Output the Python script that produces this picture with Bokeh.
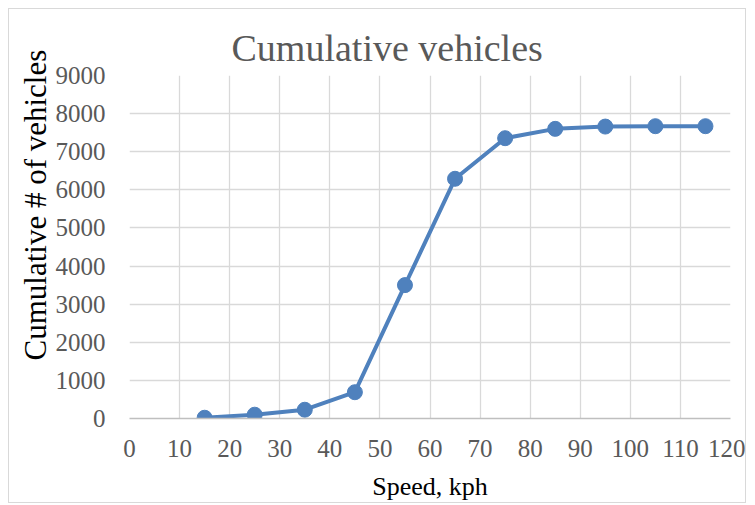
from bokeh.plotting import figure
from bokeh.models import Range1d, FixedTicker, Title
from bokeh.embed import file_html
from bokeh.resources import INLINE

speed = [15, 25, 35, 45, 55, 65, 75, 85, 95, 105, 115]
cumulative = [20, 100, 230, 690, 3500, 6290, 7355, 7600, 7660, 7670, 7670]
x_ticks = list(range(0, 121, 10))
y_ticks = list(range(0, 9001, 1000))
y_title = "Cumulative # of vehicles"

FONT = "Liberation Serif"
BLUE = "#4F81BD"

p = figure(width=738, height=495, output_backend="svg", toolbar_location=None,
           x_range=Range1d(0, 120), y_range=Range1d(0, 9000),
           min_border_left=120, min_border_right=17, min_border_top=66, min_border_bottom=86,
           title="Cumulative vehicles")
p.styles = {"border": "1px solid #D9D9D9"}
p.border_fill_color = "white"
p.outline_line_color = None

p.title.text_font = FONT
p.title.text_font_size = "38px"
p.title.text_font_style = "normal"
p.title.text_color = "#595959"
p.title.align = "left"
p.title.offset = 102
p.title.standoff = 14

p.xaxis.ticker = FixedTicker(ticks=x_ticks)
p.yaxis.ticker = FixedTicker(ticks=y_ticks)
for ax in (p.xaxis[0], p.yaxis[0]):
    ax.major_tick_line_color = None
    ax.minor_tick_line_color = None
    ax.major_label_text_font = FONT
    ax.major_label_text_font_size = "25px"
    ax.major_label_text_color = "#595959"
    ax.axis_label_text_font = FONT
    ax.axis_label_text_font_style = "normal"
    ax.axis_label_text_color = "#000000"
p.xaxis.axis_label_text_font_size = "26px"
p.xaxis.axis_line_color = "#BFBFBF"
p.xaxis.axis_line_width = 1.5
p.yaxis.axis_line_color = None
p.xaxis.major_label_standoff = 15
p.yaxis.major_label_standoff = 18
p.xaxis.axis_label = "Speed, kph"
p.xaxis.axis_label_standoff = 12

# y-axis title, raised above the frame's centre as in the reference
ytitle = Title(text=y_title, align="left", offset=58, standoff=0,
               text_font=FONT, text_font_size="31px", text_font_style="normal",
               text_color="#000000")
p.add_layout(ytitle, "left")

p.xgrid.grid_line_color = "#D9D9D9"
p.ygrid.grid_line_color = "#D9D9D9"
p.xgrid.grid_line_width = 1.3
p.ygrid.grid_line_width = 1.3

p.line(speed, cumulative, line_color=BLUE, line_width=4)
p.scatter(speed, cumulative, size=15, fill_color=BLUE, line_color=BLUE)

p.background_fill_color = "white"

html = file_html(p, INLINE)
html = html.replace("<body>", '<body style="margin:8px">')
open("out.html", "w").write(html)
